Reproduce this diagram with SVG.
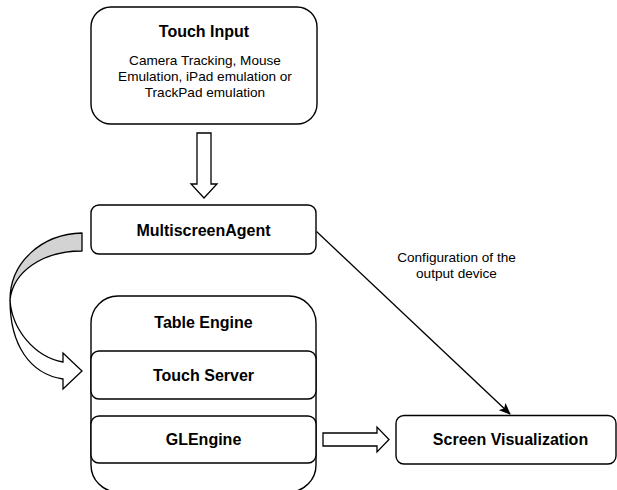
<svg xmlns="http://www.w3.org/2000/svg" width="617" height="490" viewBox="0 0 617 490">
  <style>
    .box { fill: #ffffff; stroke: #000000; stroke-width: 1.4; }
    .title { font-family: "Liberation Sans", Arial, sans-serif; font-size: 16px; font-weight: bold; fill: #000000; text-anchor: middle; }
    .body { font-family: "Liberation Sans", Arial, sans-serif; font-size: 13.6px; fill: #000000; text-anchor: middle; }
    .block { fill: #ffffff; stroke: #000000; stroke-width: 1.3; stroke-linejoin: miter; }
    .line { fill: none; stroke: #000000; stroke-width: 1.3; }
  </style>
  <defs>
    <marker id="arrowhead" markerWidth="12" markerHeight="10" refX="11" refY="5" orient="auto" markerUnits="userSpaceOnUse">
      <path d="M0,0 L12,5 L0,10 L3,5 Z" fill="#000000"/>
    </marker>
  </defs>
  <rect width="617" height="490" fill="#ffffff"/>

  <g id="touch-input">
    <rect class="box" x="91" y="7" width="226" height="117" rx="20" ry="20"/>
    <text class="title" x="204" y="37">Touch Input</text>
    <text class="body" x="205" y="65">Camera Tracking, Mouse</text>
    <text class="body" x="205" y="81">Emulation, iPad emulation or</text>
    <text class="body" x="205" y="97">TrackPad emulation</text>
  </g>

  <g id="multiscreen-agent">
    <rect class="box" x="91" y="205" width="225" height="49" rx="8" ry="8"/>
    <text class="title" x="203.5" y="236">MultiscreenAgent</text>
  </g>

  <g id="table-engine">
    <rect class="box" x="91" y="296" width="225" height="196" rx="27" ry="27"/>
    <text class="title" x="203.5" y="328">Table Engine</text>
  </g>

  <g id="touch-server">
    <rect class="box" x="91" y="351" width="225" height="48" rx="8" ry="8"/>
    <text class="title" x="203.5" y="381">Touch Server</text>
  </g>

  <g id="glengine">
    <rect class="box" x="91" y="416" width="225" height="47" rx="8" ry="8"/>
    <text class="title" x="203.5" y="444.5">GLEngine</text>
  </g>

  <g id="screen-visualization">
    <rect class="box" x="396" y="415.5" width="220" height="48.5" rx="8" ry="8"/>
    <text class="title" x="510.5" y="445">Screen Visualization</text>
  </g>

  <g id="connectors">
    <!-- block arrow: Touch Input down to MultiscreenAgent -->
    <path class="block" d="M197,133 L211,133 L211,184 L217,184 L204,198 L191,184 L197,184 Z"/>
    <!-- curved arrow: MultiscreenAgent round to Touch Server -->
    <path d="M82,233 C42,234 10,262 10,300 C13,272 42,251 82,251 Z" fill="#d3d3d3" stroke="#000000" stroke-width="1.3" stroke-linejoin="round"/>
    <path class="block" d="M10,300 C12,330 35,357 63,362 L63,353 L82,371 L63,389 L63,379 C30,374 10,345 10,300 Z"/>
    <!-- block arrow: GLEngine to Screen Visualization -->
    <path class="block" d="M323,433 L377,433 L377,427 L389,439.5 L377,452 L377,446 L323,446 Z"/>
    <!-- configuration link -->
    <line class="line" x1="316.5" y1="231.5" x2="510" y2="414" marker-end="url(#arrowhead)"/>
    <text class="body" x="456.5" y="262">Configuration of the</text>
    <text class="body" x="456.5" y="277.5">output device</text>
  </g>
</svg>
